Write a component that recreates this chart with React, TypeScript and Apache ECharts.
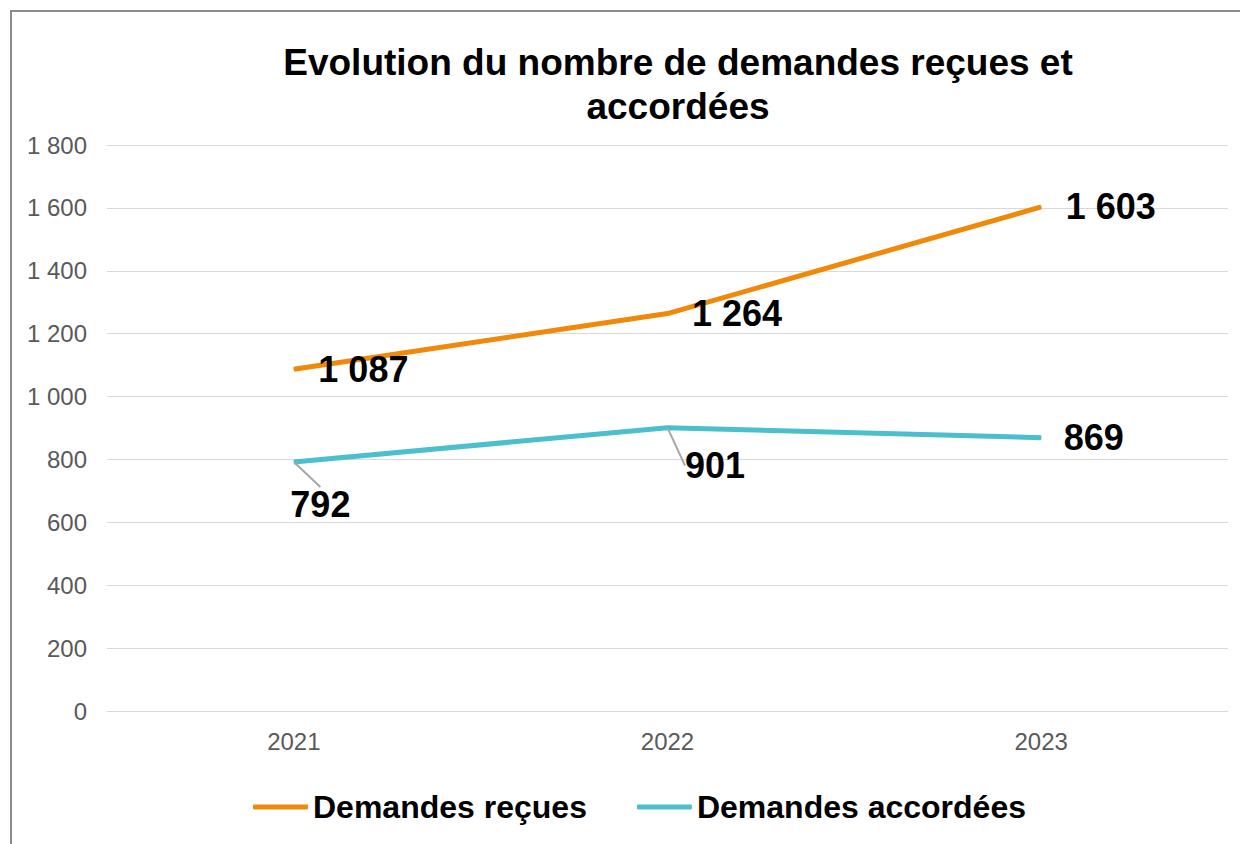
import React, { useEffect, useRef } from "react";
import * as echarts from "echarts";

const years = ["2021", "2022", "2023"];
const recues = [1087, 1264, 1603];
const accordees = [792, 901, 869];
const seriesNames = ["Demandes reçues", "Demandes accordées"];
const titleText = "Evolution du nombre de demandes reçues et\naccordées";

const fmt = (v: number) => {
  const s = String(Math.round(v));
  return s.replace(/\B(?=(\d{3})+(?!\d))/g, " ");
};

const FONT = "'Liberation Sans', Arial, sans-serif";
const ORANGE = "#F0880A";
const TEAL = "#4BBFCE";

export default function App() {
  const ref = useRef<HTMLDivElement>(null);
  useEffect(() => {
    if (!ref.current) return;
    const chart = echarts.init(ref.current, undefined, { renderer: "svg" });
    const tealOffsets = [
      { dx: -26, dy: 43 },
      { dx: -5, dy: 38 },
      { dx: 0, dy: 0 },
    ];
    chart.setOption({
      animation: false,
      textStyle: { fontFamily: FONT },
      title: {
        text: titleText,
        left: 673,
        top: 35,
        textAlign: "center",
        textStyle: {
          fontFamily: FONT,
          fontSize: 37,
          fontWeight: "bold",
          color: "#000",
          lineHeight: 44,
        },
      },
      grid: { left: 107, right: 12, top: 145, bottom: 133 },
      legend: {
        left: 248,
        top: 786,
        icon: "roundRect",
        itemWidth: 55,
        itemHeight: 5,
        itemGap: 50,
        textStyle: { fontFamily: FONT, fontSize: 32, fontWeight: "bold", color: "#000" },
        data: seriesNames,
      },
      xAxis: {
        type: "category",
        data: years,
        axisLine: { show: true, lineStyle: { color: "#D9D9D9", width: 1 } },
        axisTick: { show: false },
        axisLabel: { fontFamily: FONT, fontSize: 24, color: "#595959", margin: 18 },
      },
      yAxis: {
        type: "value",
        min: 0,
        max: 1800,
        interval: 200,
        axisLine: { show: false },
        axisTick: { show: false },
        splitLine: { lineStyle: { color: "#D9D9D9", width: 1 } },
        axisLabel: {
          fontFamily: FONT,
          fontSize: 24,
          color: "#595959",
          margin: 20,
          formatter: (v: number) => fmt(v),
        },
      },
      series: [
        {
          name: seriesNames[0],
          type: "line",
          data: recues,
          symbol: "circle",
          symbolSize: 1,
          showSymbol: true,
          lineStyle: { color: ORANGE, width: 5 },
          itemStyle: { color: ORANGE },
          label: {
            show: true,
            position: "right",
            distance: 24,
            fontFamily: FONT,
            fontSize: 36,
            fontWeight: "bold",
            color: "#000",
            formatter: (p: any) => fmt(p.value),
          },
          labelLine: { show: false },
        },
        {
          name: seriesNames[1],
          type: "line",
          data: accordees.map((v, i) => ({
            value: v,
            labelLine: { show: i < 2 },
          })),
          symbol: "circle",
          symbolSize: 1,
          showSymbol: true,
          lineStyle: { color: TEAL, width: 5 },
          itemStyle: { color: TEAL },
          label: {
            show: true,
            position: "right",
            distance: 22,
            fontFamily: FONT,
            fontSize: 36,
            fontWeight: "bold",
            color: "#000",
            formatter: (p: any) => fmt(p.value),
          },
          labelLine: { show: true, lineStyle: { color: "#A6A6A6", width: 2 } },
          labelLayout: (params: any) => tealOffsets[params.dataIndex],
        },
      ],
    });
    return () => chart.dispose();
  }, []);
  return (
    <div style={{ position: "fixed", left: 0, top: 0, width: 1240, height: 844, background: "#fff", overflow: "hidden" }}>
      <div
        style={{
          position: "absolute",
          left: 10,
          top: 10,
          width: 1300,
          height: 900,
          border: "2px solid #8C8C8C",
          boxSizing: "border-box",
        }}
      />
      <div ref={ref} style={{ position: "absolute", left: 0, top: 0, width: 1240, height: 844 }} />
    </div>
  );
}
